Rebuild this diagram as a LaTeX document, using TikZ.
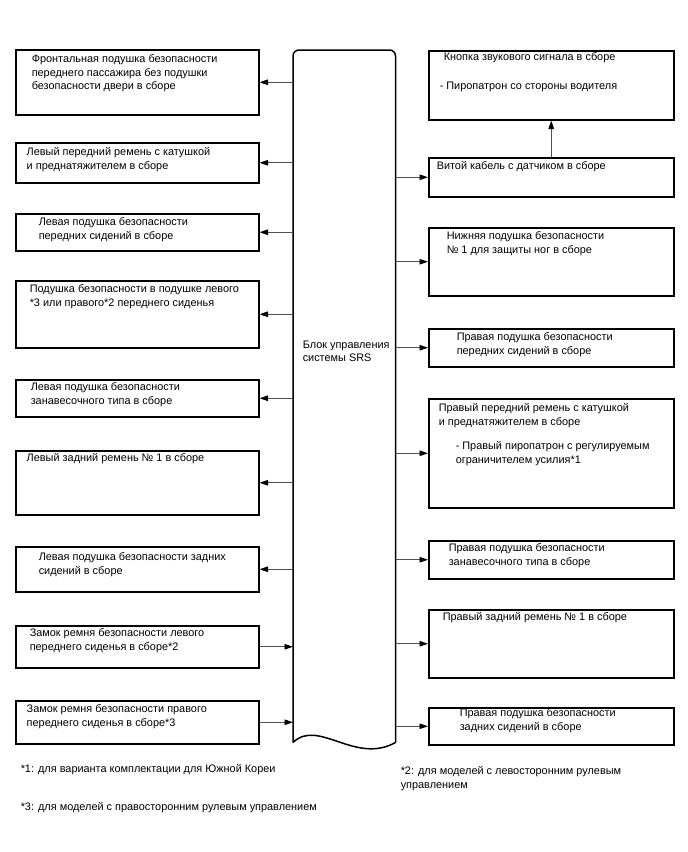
\documentclass[tikz,border=0pt]{standalone}
\usepackage{fontspec}
\setmainfont{Liberation Sans}
\usetikzlibrary{arrows.meta, positioning}
\definecolor{cwire}{HTML}{505050}
\tikzset{
  every picture/.style={font=\fontsize{10.9}{13.6}\selectfont, line width=1.5pt, x=1pt, y=-1pt},
  unit/.style={draw=black, line width=1.5pt, anchor=north west, inner sep=0pt, minimum height=#1},
  lunit/.style={unit=#1, minimum width=243pt},
  runit/.style={unit=#1, minimum width=245pt},
  txt/.style={align=left, inner sep=0pt, anchor=north west},
  arrow/.style={-{Triangle[length=8.5pt, width=5.5pt, color=black]}, draw=cwire, line width=0.9pt},
}

\begin{document}
\begin{tikzpicture}
  \useasboundingbox (0,0) rectangle (688,852);
  % centre: SRS control unit
  \node[minimum width=101pt, minimum height=691pt, anchor=north west, inner sep=0pt] (ecu) at (293,50) {};
  \draw[rounded corners=6pt] (ecu.south east) -- (ecu.north east) -- (ecu.north west) -- (ecu.south west);
  \draw (ecu.south west) .. controls (318,718) and (355,765) .. (ecu.south east);
  \node[txt] (ecutext) at (302,340) {Блок управления\\системы SRS};
  % left column
  \node[lunit=65pt] (l1) at (15,49) {};
  \node[txt, below right=5pt and 16pt of l1.north west] (l1t) {Фронтальная подушка безопасности\\переднего пассажира без подушки\\безопасности двери в сборе};
  \node[lunit=40pt] (l2) at (15,142) {};
  \node[txt, below right=5pt and 11pt of l2.north west] (l2t) {Левый передний ремень с катушкой\\и преднатяжителем в сборе};
  \node[lunit=37pt] (l3) at (15,213) {};
  \node[txt, below right=4pt and 23pt of l3.north west] (l3t) {Левая подушка безопасности\\передних сидений в сборе};
  \node[lunit=67pt] (l4) at (15,280) {};
  \node[txt, below right=4pt and 14pt of l4.north west] (l4t) {Подушка безопасности в подушке левого\\*3 или правого*2 переднего сиденья};
  \node[lunit=37pt] (l5) at (15,379) {};
  \node[txt, below right=3pt and 15pt of l5.north west] (l5t) {Левая подушка безопасности\\занавесочного типа в сборе};
  \node[lunit=64pt] (l6) at (15,450) {};
  \node[txt, below right=3pt and 11pt of l6.north west] (l6t) {Левый задний ремень № 1 в сборе};
  \node[lunit=45pt] (l7) at (15,546) {};
  \node[txt, below right=6pt and 23pt of l7.north west] (l7t) {Левая подушка безопасности задних\\сидений в сборе};
  \node[lunit=42pt] (l8) at (15,625) {};
  \node[txt, below right=3pt and 14pt of l8.north west] (l8t) {Замок ремня безопасности левого\\переднего сиденья в сборе*2};
  \node[lunit=43pt] (l9) at (15,700) {};
  \node[txt, below right=4pt and 11pt of l9.north west] (l9t) {Замок ремня безопасности правого\\переднего сиденья в сборе*3};
  % right column
  \node[runit=69pt] (r1) at (428,50) {};
  \node[txt, below right=2pt and 15pt of r1.north west] (r1t) {Кнопка звукового сигнала в сборе};
  \node[txt, below right=31pt and 11pt of r1.north west] (r1s) {- Пиропатрон со стороны водителя};
  \node[runit=39pt] (r2) at (428,157) {};
  \node[txt, below right=4pt and 8pt of r2.north west] (r2t) {Витой кабель с датчиком в сборе};
  \node[runit=68pt] (r3) at (428,227) {};
  \node[txt, below right=4pt and 18pt of r3.north west] (r3t) {Нижняя подушка безопасности\\№ 1 для защиты ног в сборе};
  \node[runit=38pt] (r4) at (428,328) {};
  \node[txt, below right=4pt and 28pt of r4.north west] (r4t) {Правая подушка безопасности\\передних сидений в сборе};
  \node[runit=109pt] (r5) at (428,398) {};
  \node[txt, below right=5pt and 10pt of r5.north west] (r5t) {Правый передний ремень с катушкой\\и преднатяжителем в сборе};
  \node[txt, below right=43pt and 27pt of r5.north west] (r5s) {- Правый пиропатрон с регулируемым\\ограничителем усилия*1};
  \node[runit=38pt] (r6) at (428,540) {};
  \node[txt, below right=3pt and 20pt of r6.north west] (r6t) {Правая подушка безопасности\\занавесочного типа в сборе};
  \node[runit=68pt] (r7) at (428,609) {};
  \node[txt, below right=3pt and 14pt of r7.north west] (r7t) {Правый задний ремень № 1 в сборе};
  \node[runit=37pt] (r8) at (428,707) {};
  \node[txt, below right=1pt and 31pt of r8.north west] (r8t) {Правая подушка безопасности\\задних сидений в сборе};
  % connectors
  \foreach \n in {l1,l2,l3,l4,l5,l6,l7}
    \draw[arrow] (ecu.west |- \n.east) -- (\n.east);
  \foreach \n in {l8,l9}
    \draw[arrow] (\n.east) -- (ecu.west |- \n.east);
  \foreach \n in {r2,r3,r4,r5,r6,r7,r8}
    \draw[arrow] (ecu.east |- \n.west) -- (\n.west);
  \draw[arrow] (r2.north) -- (r1.south);
  % footnotes
  \node[txt] (fn1) at (20,764) {*1: для варианта комплектации для Южной Кореи};
  \node[txt] (fn2) at (400,766) {*2: для моделей с левосторонним рулевым\\управлением};
  \node[txt] (fn3) at (20,802) {*3: для моделей с правосторонним рулевым управлением};
\end{tikzpicture}
\end{document}
